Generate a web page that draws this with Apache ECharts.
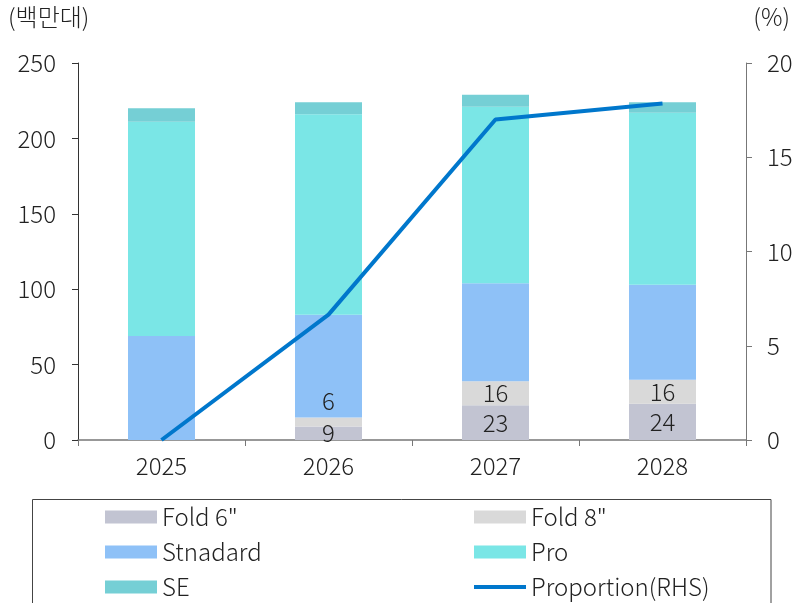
<!DOCTYPE html>
<html>
<head>
<meta charset="utf-8">
<script src="https://cdn.jsdelivr.net/npm/echarts@6/dist/echarts.min.js"></script>
<style>
    html, body { margin: 0; padding: 0; background: #fff; }
    #chart { width: 800px; height: 603px; }
</style>
</head>
<body>
<div id="chart"></div>
<script>
    // 데이터 (단위: 백만대, 비중 %)
    const years = ['2025', '2026', '2027', '2028'];
    const fold6 = [0, 9, 23, 24];
    const fold8 = [0, 6, 16, 16];
    const standard = [69, 68, 65, 63];
    const pro = [142, 133, 117, 114];
    const se = [9, 8, 8, 7];
    const proportion = [0, 6.65, 17.0, 17.85];
    const leftTicks = [0, 50, 100, 150, 200, 250];
    const rightTicks = [0, 5, 10, 15, 20];

    const FONT = 'Noto Sans CJK KR';
    const TXT = '#222';
    const W = 300;

    const chart = echarts.init(document.getElementById('chart'), null, { renderer: 'canvas' });

    const barSeries = (name, data, color, withLabel) => ({
        name: name,
        type: 'bar',
        stack: 'total',
        barWidth: 67,
        yAxisIndex: 0,
        itemStyle: { color: color },
        data: data.map((v, i) => {
            // 2026년 Fold 8" 라벨은 막대 위쪽에 표시
            if (withLabel && name === 'Fold 8"' && i === 1) {
                return { value: v, label: { position: 'top', distance: 5 } };
            }
            return v;
        }),
        label: {
            show: withLabel,
            position: 'inside',
            color: TXT,
            fontFamily: FONT,
            fontWeight: W,
            fontSize: 24,
            formatter: (p) => (p.value ? p.value : '')
        },
        emphasis: { disabled: true }
    });

    const legendBase = {
        orient: 'vertical',
        top: 500,
        height: 120,
        itemWidth: 52,
        itemHeight: 13,
        itemGap: 11,
        icon: 'rect',
        textStyle: { color: TXT, fontFamily: FONT, fontWeight: W, fontSize: 24, lineHeight: 24 }
    };

    const option = {
        animation: false,
        backgroundColor: '#fff',
        textStyle: { fontFamily: FONT },
        grid: { left: 78, right: 54, top: 63, bottom: 163 },
        legend: [
            Object.assign({}, legendBase, {
                left: 100,
                data: ['Fold 6"', 'Stnadard', 'SE']
            }),
            Object.assign({}, legendBase, {
                left: 469,
                data: ['Fold 8"', 'Pro', { name: 'Proportion(RHS)', icon: 'path://M0,0M52,13M0,4.5H52V8.5H0Z' }]
            })
        ],
        graphic: [
            {
                type: 'rect',
                shape: { x: 32.5, y: 499.5, width: 738.5, height: 130 },
                style: { fill: 'none', stroke: '#444', lineWidth: 1 },
                silent: true
            },
            {
                type: 'text',
                left: 8, top: 5,
                style: { text: '(백만대)', fill: TXT, font: W + ' 24px "' + FONT + '"' }
            },
            {
                type: 'text',
                right: 10, top: 5,
                style: { text: '(%)', fill: TXT, font: W + ' 24px "' + FONT + '"' }
            }
        ],
        xAxis: {
            type: 'category',
            data: years,
            axisLine: { lineStyle: { color: '#777', width: 1.5 } },
            axisTick: { show: true, length: 6, lineStyle: { color: '#777' } },
            axisLabel: { color: TXT, fontFamily: FONT, fontWeight: W, fontSize: 24, margin: 14 }
        },
        yAxis: [
            {
                type: 'value',
                min: 0,
                max: 250,
                interval: 50,
                axisLine: { show: true, lineStyle: { color: '#333' } },
                axisTick: { show: true, length: 6, lineStyle: { color: '#333' } },
                splitLine: { show: false },
                axisLabel: {
                    color: TXT, fontFamily: FONT, fontWeight: W, fontSize: 24, margin: 22,
                    formatter: (v) => (leftTicks.includes(v) ? String(v) : '')
                }
            },
            {
                type: 'value',
                min: 0,
                max: 20,
                interval: 5,
                position: 'right',
                axisLine: { show: true, lineStyle: { color: '#777' } },
                axisTick: { show: true, length: 6, lineStyle: { color: '#777' } },
                splitLine: { show: false },
                axisLabel: {
                    color: TXT, fontFamily: FONT, fontWeight: W, fontSize: 24, margin: 21,
                    formatter: (v) => (rightTicks.includes(v) ? String(v) : '')
                }
            }
        ],
        series: [
            barSeries('Fold 6"', fold6, '#C2C4D2', true),
            barSeries('Fold 8"', fold8, '#D9D9D9', true),
            barSeries('Stnadard', standard, '#8EC1F7', false),
            barSeries('Pro', pro, '#7AE6E6', false),
            barSeries('SE', se, '#75CFD5', false),
            {
                name: 'Proportion(RHS)',
                type: 'line',
                yAxisIndex: 1,
                data: proportion,
                symbol: 'none',
                lineStyle: { color: '#0077CC', width: 4 },
                itemStyle: { color: '#0077CC' },
                emphasis: { disabled: true }
            }
        ]
    };

    chart.setOption(option);
</script>
</body>
</html>
